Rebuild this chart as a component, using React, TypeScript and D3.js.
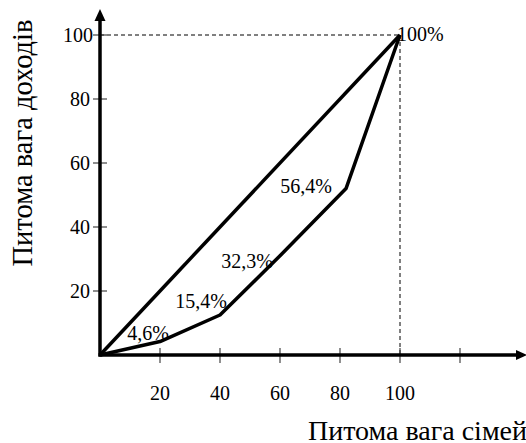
import React from "react";
import * as d3 from "d3";

const xTicks = [20, 40, 60, 80, 100, 120];
const xTickLabels = ["20", "40", "60", "80", "100", ""];
const yTicks = [20, 40, 60, 80, 100];
const yTickLabels = ["20", "40", "60", "80", "100"];
const familyShare = [0, 20, 40, 60, 82, 100];
const incomeShare = [0, 4.2, 12.5, 31, 52, 100];
const pointLabels = ["", "4,6%", "15,4%", "32,3%", "56,4%", "100%"];
const equality = [0, 100];

const labelOffsets: [number, number, string][] = [
  [0, 0, "end"],
  [9, -2, "end"],
  [7, -7, "end"],
  [-7, 12, "end"],
  [-14, 4, "end"],
  [-3, 6, "start"],
];

export default function App() {
  const W = 526, H = 443;
  const x = d3.scaleLinear().domain([0, 100]).range([100, 400]);
  const y = d3.scaleLinear().domain([0, 100]).range([355, 35]);
  const pts: [number, number][] = familyShare.map((f, i) => [f, incomeShare[i]]);
  const line = d3.line<[number, number]>().x(d => x(d[0])).y(d => y(d[1]));
  const font = "'Liberation Serif', 'Times New Roman', 'DejaVu Serif', serif";
  return (
    <svg width={W} height={H} style={{ position: "absolute", left: 0, top: 0, background: "#fff", fontFamily: font }}>
      <rect width={W} height={H} fill="#fff" />
      {/* dashed guides */}
      <line x1={x(0)} x2={x(100)} y1={y(100)} y2={y(100)} stroke="#000" strokeWidth={1} strokeDasharray="4,3" />
      <line x1={x(100)} x2={x(100)} y1={y(100)} y2={y(0)} stroke="#000" strokeWidth={1} strokeDasharray="4,3" />
      {/* ticks */}
      {yTicks.map(t => (
        <line key={"yt" + t} x1={93} x2={107} y1={y(t)} y2={y(t)} stroke="#444" strokeWidth={1.2} />
      ))}
      {xTicks.map(t => (
        <line key={"xt" + t} x1={x(t)} x2={x(t)} y1={y(0) - 7} y2={y(0) + 8} stroke="#444" strokeWidth={1.2} />
      ))}
      {/* axes */}
      <line x1={x(0)} x2={x(0)} y1={y(0) + 1.5} y2={18} stroke="#000" strokeWidth={3.5} />
      <path d={`M${x(0)},9 L${x(0) - 5.5},21 L${x(0) + 5.5},21 Z`} fill="#000" />
      <line x1={x(0) - 1.5} x2={518} y1={y(0)} y2={y(0)} stroke="#000" strokeWidth={3.5} />
      <path d={`M527,${y(0)} L516,${y(0) - 5} L516,${y(0) + 5} Z`} fill="#000" />
      {/* equality line and Lorenz curve */}
      <path d={line(equality.map(v => [v, v]) as [number, number][]) || ""} fill="none" stroke="#000" strokeWidth={3.5} strokeLinejoin="round" />
      <path d={line(pts) || ""} fill="none" stroke="#000" strokeWidth={3.5} strokeLinejoin="round" />
      {/* tick labels */}
      {yTicks.map((t, i) => (
        <text key={"yl" + t} x={t === 100 ? 93 : 90} y={y(t)} dy="0.35em" textAnchor="end" fontSize={20} fill="#000">{yTickLabels[i]}</text>
      ))}
      {xTicks.map((t, i) => (
        <text key={"xl" + t} x={x(t)} y={400} textAnchor="middle" fontSize={20} fill="#000">{xTickLabels[i]}</text>
      ))}
      {/* point labels */}
      {pts.map((p, i) => pointLabels[i] ? (
        <text key={"pl" + i} x={x(p[0]) + labelOffsets[i][0]} y={y(p[1]) + labelOffsets[i][1]} textAnchor={labelOffsets[i][2]} fontSize={20} fill="#000">{pointLabels[i]}</text>
      ) : null)}
      {/* axis titles */}
      <text x={308} y={440} fontSize={28} fill="#000">Питома вага сімей</text>
      <text transform="translate(32,143) rotate(-90)" textAnchor="middle" fontSize={28.5} fill="#000">Питома вага доходів</text>
    </svg>
  );
}
